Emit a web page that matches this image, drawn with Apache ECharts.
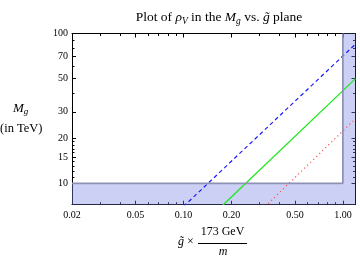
<!DOCTYPE html>
<html><head><meta charset="utf-8">
<script src="https://cdn.jsdelivr.net/npm/echarts@6/dist/echarts.min.js"></script>
<style>html,body{margin:0;padding:0;background:#fff}#c{width:360px;height:261px}</style>
</head><body><div id="c"></div>
<script>
const xTicksMajor = [0.02, 0.05, 0.1, 0.2, 0.5, 1];
const xTicksMinor = [0.03, 0.04, 0.06, 0.07, 0.08, 0.09, 0.3, 0.4, 0.6, 0.7, 0.8, 0.9];
const yTicksMajor = [10, 15, 20, 30, 50, 70, 100];
const yTicksMinor = [11, 12, 13, 14, 16, 17, 18, 19, 40, 60, 80, 90];
const blueX = [0.1, 1.2];
const blueY = [7, 85];
const greenX = [0.177, 1.2];
const greenY = [7.16, 50];
const redX = [0.325, 1.2];
const redY = [7, 27];
const boundX = [0.02, 1, 1];
const boundY = [10, 10, 100];
const xMin = 0.02, xMax = 1.2, yMin = 7.2, yMax = 100;

const pairs = (xs, ys) => xs.map((x, i) => [x, ys[i]]);
const serif = 'Liberation Serif';
const gridRect = {left: 72, right: 4.5, top: 33.5, bottom: 56.3};

function xAx(grid, pos, ticks, len, labels, line) {
  return {type: 'log', gridIndex: grid, position: pos, min: xMin, max: xMax,
    axisLine: {show: line, lineStyle: {color: '#000', width: 1}},
    axisTick: {show: true, inside: true, length: len, customValues: ticks, lineStyle: {color: '#000', width: 1}},
    axisLabel: {show: labels, customValues: ticks, margin: 6, fontFamily: serif, fontSize: 10, color: '#000',
      formatter: v => Number(v).toFixed(2)},
    splitLine: {show: false}, minorTick: {show: false}};
}
function yAx(grid, pos, ticks, len, labels, line) {
  return {type: 'log', gridIndex: grid, position: pos, min: yMin, max: yMax,
    axisLine: {show: line, lineStyle: {color: '#000', width: 1}},
    axisTick: {show: true, inside: true, length: len, customValues: ticks, lineStyle: {color: '#000', width: 1}},
    axisLabel: {show: labels, customValues: ticks, margin: 4, fontFamily: serif, fontSize: 10, color: '#000',
      formatter: v => String(Math.round(v))},
    splitLine: {show: false}, minorTick: {show: false}};
}

const chart = echarts.init(document.getElementById('c'), null, {renderer: 'canvas'});
chart.setOption({
  animation: false,
  title: {
    text: 'Plot of {i|ρ}{s|V} in the {i|M}{s|g} vs. {i|g̃} plane',
    left: 214, textAlign: 'center', top: 4,
    textStyle: {fontFamily: serif, fontSize: 13.5, fontWeight: 'normal', color: '#000',
      rich: {
        i: {fontFamily: serif, fontSize: 13.5, fontStyle: 'italic', color: '#000'},
        s: {fontFamily: serif, fontSize: 9.5, fontStyle: 'italic', color: '#000', verticalAlign: 'bottom', padding: [7, 0, 0, 0]}
      }}
  },
  grid: [Object.assign({}, gridRect), Object.assign({}, gridRect)],
  xAxis: [
    xAx(0, 'bottom', xTicksMajor, 4, true, true),
    xAx(0, 'top', xTicksMajor, 4, false, true),
    xAx(1, 'bottom', xTicksMinor, 2.5, false, false),
    xAx(1, 'top', xTicksMinor, 2.5, false, false)
  ],
  yAxis: [
    yAx(0, 'left', yTicksMajor, 4, true, true),
    yAx(0, 'right', yTicksMajor, 4, false, true),
    yAx(1, 'left', yTicksMinor, 2.5, false, false),
    yAx(1, 'right', yTicksMinor, 2.5, false, false)
  ],
  series: [
    {type: 'line', xAxisIndex: 0, yAxisIndex: 0, data: pairs(blueX, blueY), symbol: 'none', z: 2,
      lineStyle: {color: '#1a1aff', width: 1.2, type: [4, 3]}},
    {type: 'line', xAxisIndex: 0, yAxisIndex: 0, data: pairs(greenX, greenY), symbol: 'none', z: 2,
      lineStyle: {color: '#1ee81e', width: 1.3}},
    {type: 'line', xAxisIndex: 0, yAxisIndex: 0, data: pairs(redX, redY), symbol: 'none', z: 2,
      lineStyle: {color: '#ff5050', width: 1.2, type: [1.2, 3]}},
    {type: 'line', xAxisIndex: 0, yAxisIndex: 0, data: pairs(boundX, boundY), symbol: 'none', z: 4,
      lineStyle: {color: '#8d92b5', width: 1.7},
      markArea: {silent: true, itemStyle: {color: 'rgba(128,138,230,0.4)'},
        data: [
          [{coord: [xMin, yMin]}, {coord: [xMax, 10]}],
          [{coord: [1, 10]}, {coord: [xMax, yMax]}]
        ]}}
  ],
  graphic: [
    {type: 'text', left: 13, top: 102, style: {
      text: '{i|M}{s|g}', fontFamily: serif,
      rich: {i: {fontFamily: serif, fontSize: 13, fontStyle: 'italic', fill: '#000'},
        s: {fontFamily: serif, fontSize: 9, fontStyle: 'italic', fill: '#000', verticalAlign: 'bottom', padding: [6, 0, 0, 0]}}}},
    {type: 'text', left: 0, top: 122, style: {text: '(in TeV)', fontFamily: serif, fontSize: 12.5, fill: '#000'}},
    {type: 'text', x: 186, y: 242, style: {text: '{i|g̃} ×', fontFamily: serif, fontSize: 12, fill: '#000',
      align: 'center', verticalAlign: 'middle', rich: {i: {fontFamily: serif, fontSize: 12, fontStyle: 'italic', fill: '#000'}}}},
    {type: 'text', x: 222.5, y: 232, style: {text: '173 GeV', fontFamily: serif, fontSize: 12, fill: '#000',
      align: 'center', verticalAlign: 'middle'}},
    {type: 'line', shape: {x1: 198, y1: 243.5, x2: 247, y2: 243.5}, style: {stroke: '#000', lineWidth: 1}},
    {type: 'text', x: 223, y: 252, style: {text: 'm', fontFamily: serif, fontSize: 12, fontStyle: 'italic', fill: '#000',
      align: 'center', verticalAlign: 'middle'}}
  ]
});
</script></body></html>
